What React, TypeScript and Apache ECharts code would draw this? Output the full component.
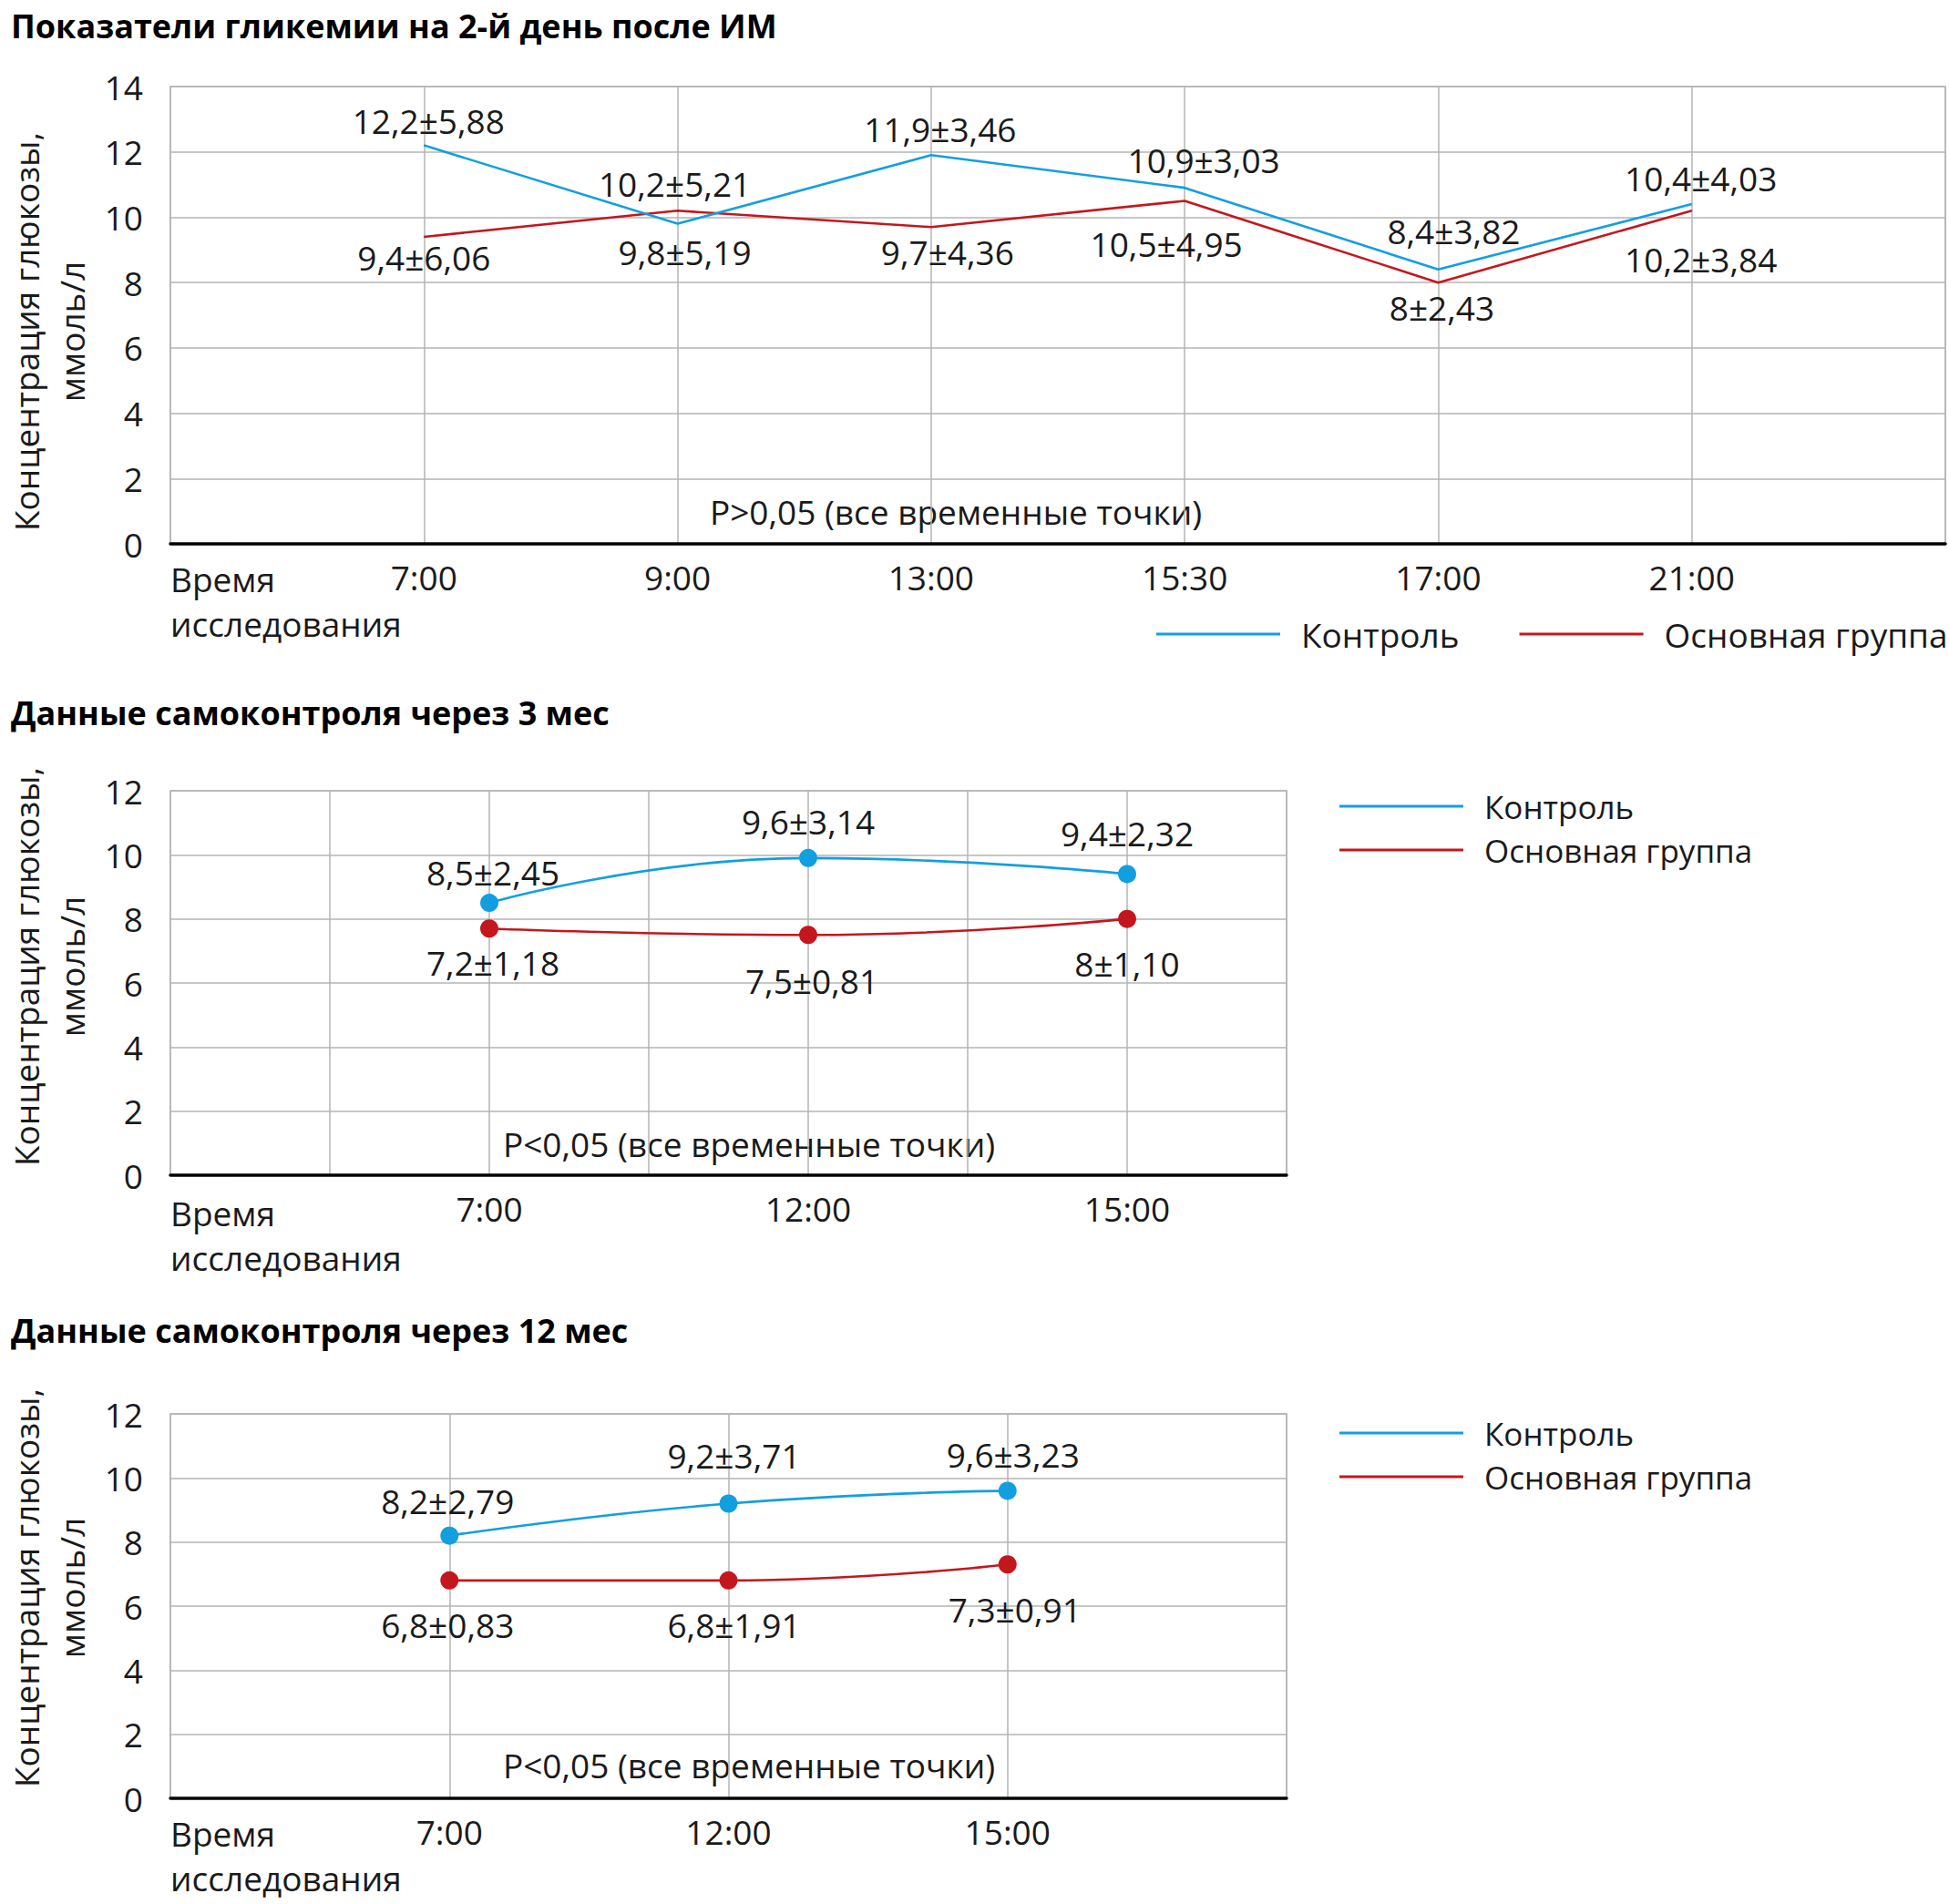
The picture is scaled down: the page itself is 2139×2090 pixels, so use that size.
import React, { useEffect, useRef } from "react";
import * as echarts from "echarts";

// ---------- data ----------
const titles = [
  "Показатели гликемии на 2-й день после ИМ",
  "Данные самоконтроля через 3 мес",
  "Данные самоконтроля через 12 мес",
];
const seriesNames = ["Контроль", "Основная группа"];
const yAxisTitle = "Концентрация глюкозы,\nммоль/л";
const xAxisTitle = "Время\nисследования";
const pTexts = [
  "P>0,05 (все временные точки)",
  "P<0,05 (все временные точки)",
  "P<0,05 (все временные точки)",
];

// chart 1
const axis1 = ["", "7:00", "9:00", "13:00", "15:30", "17:00", "21:00", ""];
const times1 = ["7:00", "9:00", "13:00", "15:30", "17:00", "21:00"];
const ctrl1 = [12.2, 9.8, 11.9, 10.9, 8.4, 10.4];
const main1 = [9.4, 10.2, 9.7, 10.5, 8.0, 10.2];
const ctrlLbl1 = ["12,2±5,88", "9,8±5,19", "11,9±3,46", "10,9±3,03", "8,4±3,82", "10,4±4,03"];
const mainLbl1 = ["9,4±6,06", "10,2±5,21", "9,7±4,36", "10,5±4,95", "8±2,43", "10,2±3,84"];
const yTicks1 = { min: 0, max: 14, interval: 2 };

// chart 2
const axis2 = ["", "", "7:00", "", "12:00", "", "15:00", ""];
const times2 = ["7:00", "12:00", "15:00"];
const ctrl2 = [8.5, 9.9, 9.4];
const main2 = [7.7, 7.5, 8.0];
const ctrlLbl2 = ["8,5±2,45", "9,6±3,14", "9,4±2,32"];
const mainLbl2 = ["7,2±1,18", "7,5±0,81", "8±1,10"];
const yTicks2 = { min: 0, max: 12, interval: 2 };

// chart 3
const axis3 = ["", "7:00", "12:00", "15:00", ""];
const times3 = ["7:00", "12:00", "15:00"];
const ctrl3 = [8.2, 9.2, 9.6];
const main3 = [6.8, 6.8, 7.3];
const ctrlLbl3 = ["8,2±2,79", "9,2±3,71", "9,6±3,23"];
const mainLbl3 = ["6,8±0,83", "6,8±1,91", "7,3±0,91"];
const yTicks3 = { min: 0, max: 12, interval: 2 };

// ---------- label nudges (layout only, px) ----------
const nudgeCtrl1 = [[5, 0], [8, 4], [10, -2], [21, -4], [17, -15], [10, -2]];
const nudgeMain1 = [[0, -4], [-3, -3], [18, 0], [-20, 20], [4, 0], [10, 26]];
const nudgeCtrl2 = [[4, 5], [0, -2], [0, -6]];
const nudgeMain2 = [[4, -5], [4, 8], [0, 6]];
const nudgeCtrl3 = [[-2, 6], [6, -8], [6, 5]];
const nudgeMain3 = [[-2, 2], [6, 2], [8, 3]];
// y-axis title shift along the axis (layout only, px; + moves it down)
const yNameShift = [18, -18, -20];

// ---------- styles ----------
const FONT = "'Open Sans', 'Noto Sans', sans-serif";
const TXT = "#1a1a1a";
const BLUE = "#129fe0";
const RED = "#c4171d";
const GRID = "#b5b5b5";
const FS = 37;

const grids = [
  { left: 187, top: 95, width: 1948, height: 502 },
  { left: 187, top: 868, width: 1225, height: 422 },
  { left: 187, top: 1552, width: 1225, height: 422 },
];

function makeSeries(
  gi: number,
  name: string,
  color: string,
  times: string[],
  vals: number[],
  lbls: string[],
  others: number[],
  nudges: number[][],
  smooth: boolean,
  symbolSize: number,
  distUp: number,
  distDown: number
) {
  return {
    type: "line",
    name,
    xAxisIndex: gi,
    yAxisIndex: gi,
    smooth,
    symbol: "circle",
    symbolSize,
    showSymbol: true,
    color,
    lineStyle: { color, width: 2.6 },
    itemStyle: { color },
    z: name === seriesNames[0] ? 3 : 2,
    data: times.map((t, i) => {
      const up = vals[i] >= others[i];
      return {
        value: [t, vals[i]],
        label: {
          show: true,
          position: up ? "top" : "bottom",
          distance: up ? distUp : distDown,
          offset: nudges[i],
          formatter: lbls[i],
          fontFamily: FONT,
          fontSize: FS,
          color: TXT,
        },
      };
    }),
  };
}

function makeAxes(gi: number, cats: string[], yt: { min: number; max: number; interval: number }) {
  const s = yNameShift[gi];
  const x = {
    type: "category",
    gridIndex: gi,
    data: cats,
    boundaryGap: false,
    axisLine: { show: true, lineStyle: { color: "#000", width: 3.5 } },
    axisTick: { show: false },
    axisLabel: {
      interval: 0,
      margin: 18,
      fontFamily: FONT,
      fontSize: FS,
      color: TXT,
    },
    splitLine: { show: true, interval: 0, lineStyle: { color: GRID, width: 1.5 } },
  };
  const y = {
    type: "value",
    gridIndex: gi,
    min: yt.min,
    max: yt.max,
    interval: yt.interval,
    axisLine: { show: false },
    axisTick: { show: false },
    axisLabel: { margin: 30, fontFamily: FONT, fontSize: FS, color: TXT },
    splitLine: { show: true, lineStyle: { color: GRID, width: 1.5 } },
    name: yAxisTitle,
    nameLocation: "middle",
    nameRotate: 90,
    nameGap: 82,
    nameTextStyle: {
      fontFamily: FONT,
      fontSize: FS,
      color: TXT,
      lineHeight: 50,
      padding: s > 0 ? [0, 2 * s, 0, 0] : [0, 0, 0, -2 * s],
    },
  };
  return { x, y };
}

export default function App() {
  const ref = useRef<HTMLDivElement>(null);

  useEffect(() => {
    document.body.style.margin = "0";
    if (!ref.current) return;
    const chart = echarts.init(ref.current, undefined, { renderer: "svg" });

    const a1 = makeAxes(0, axis1, yTicks1);
    const a2 = makeAxes(1, axis2, yTicks2);
    const a3 = makeAxes(2, axis3, yTicks3);

    const series = [
      makeSeries(0, seriesNames[0], BLUE, times1, ctrl1, ctrlLbl1, main1, nudgeCtrl1, false, 1, 8, 8),
      makeSeries(0, seriesNames[1], RED, times1, main1, mainLbl1, ctrl1, nudgeMain1, false, 1, 8, 8),
      makeSeries(1, seriesNames[0], BLUE, times2, ctrl2, ctrlLbl2, main2, nudgeCtrl2, true, 20, 10, 14),
      makeSeries(1, seriesNames[1], RED, times2, main2, mainLbl2, ctrl2, nudgeMain2, true, 20, 10, 14),
      makeSeries(2, seriesNames[0], BLUE, times3, ctrl3, ctrlLbl3, main3, nudgeCtrl3, true, 20, 16, 18),
      makeSeries(2, seriesNames[1], RED, times3, main3, mainLbl3, ctrl3, nudgeMain3, true, 20, 16, 18),
    ];

    const legendBase = {
      data: seriesNames,
      icon: "rect",
      itemWidth: 136,
      itemHeight: 3,
      padding: 0,
      selectedMode: false,
    };
    const legendText = (fs: number, lh: number) => ({
      fontFamily: FONT,
      fontSize: fs,
      color: TXT,
      padding: [0, 0, 0, 18],
      lineHeight: lh,
    });

    const titleStyle = { fontFamily: FONT, fontSize: 36, fontWeight: "bold", fill: "#000" };
    const txtStyle = { fontFamily: FONT, fontSize: FS, fill: TXT };

    const graphic = [
      { type: "text", left: 12, top: 10, style: { ...titleStyle, text: titles[0] } },
      { type: "text", left: 12, top: 764, style: { ...titleStyle, text: titles[1] } },
      { type: "text", left: 12, top: 1442, style: { ...titleStyle, text: titles[2] } },
      { type: "text", x: 187, y: 660, style: { ...txtStyle, text: xAxisTitle, lineHeight: 49, verticalAlign: "middle" } },
      { type: "text", x: 187, y: 1356, style: { ...txtStyle, text: xAxisTitle, lineHeight: 49, verticalAlign: "middle" } },
      { type: "text", x: 187, y: 2037, style: { ...txtStyle, text: xAxisTitle, lineHeight: 49, verticalAlign: "middle" } },
      { type: "text", x: 1049, y: 561, style: { ...txtStyle, text: pTexts[0], align: "center", verticalAlign: "middle" } },
      { type: "text", x: 822, y: 1255, style: { ...txtStyle, text: pTexts[1], align: "center", verticalAlign: "middle" } },
      { type: "text", x: 822, y: 1937, style: { ...txtStyle, text: pTexts[2], align: "center", verticalAlign: "middle" } },
    ];

    chart.setOption({
      animation: false,
      backgroundColor: "#fff",
      grid: grids.map((g) => ({
        ...g,
        outerBoundsMode: "none",
        containLabel: false,
        show: true,
        borderColor: GRID,
        borderWidth: 1.5,
        backgroundColor: "transparent",
      })),
      xAxis: [a1.x, a2.x, a3.x],
      yAxis: [a1.y, a2.y, a3.y],
      legend: [
        { ...legendBase, orient: "horizontal", left: 1269, top: 672, itemGap: 66, textStyle: legendText(FS, 48) },
        { ...legendBase, orient: "vertical", left: 1470, top: 861, itemGap: 0, textStyle: legendText(35, 48) },
        { ...legendBase, orient: "vertical", left: 1470, top: 1549, itemGap: 0, textStyle: legendText(35, 48) },
      ],
      graphic,
      series,
    });

    return () => chart.dispose();
  }, []);

  return <div ref={ref} style={{ width: 2139, height: 2090 }} />;
}
